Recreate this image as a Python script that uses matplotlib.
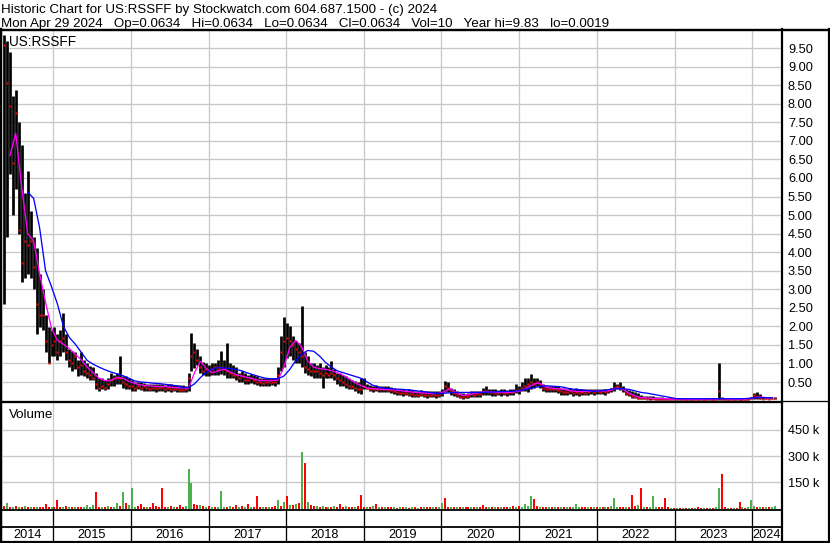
import numpy as np
import pandas as pd
import matplotlib
matplotlib.use("Agg")
import matplotlib.pyplot as plt

plt.rcParams["font.family"] = ["Liberation Sans", "DejaVu Sans"]

W, H = 830, 543

# two-week bars from mid May 2014 to Apr 2024, one row = half a year (13 bars)
hi = [
    9.84, 9.7, 9.4, 8.2, 8.36, 7.5, 6.9, 5.6, 6.2, 5.1, 4.4, 4.1, 3.4,
    3.0, 2.3, 1.97, 1.9, 1.97, 1.8, 1.9, 2.35, 1.8, 1.4, 1.35, 1.3, 1.1,
    1.3, 1.1, 1.0, 0.94, 0.9, 0.75, 0.62, 0.6, 0.55, 0.6, 0.75, 0.7, 0.75,
    1.2, 0.67, 0.65, 0.6, 0.55, 0.5, 0.5, 0.5, 0.48, 0.46, 0.45, 0.45, 0.44,
    0.44, 0.46, 0.42, 0.45, 0.44, 0.43, 0.42, 0.41, 0.42, 0.4, 0.75, 1.83, 1.54,
    1.4, 1.2, 1.05, 1.0, 0.95, 1.0, 1.0, 1.1, 1.35, 1.1, 1.56, 1.0, 0.95,
    0.9, 0.75, 0.8, 0.75, 0.7, 0.72, 0.7, 0.65, 0.62, 0.6, 0.62, 0.6, 0.62,
    0.6, 0.9, 1.75, 2.24, 2.1, 2.0, 1.75, 1.6, 1.55, 2.56, 1.3, 1.2, 1.0,
    1.0, 0.95, 1.0, 0.9, 0.95, 0.9, 1.08, 0.85, 0.75, 0.75, 0.7, 0.65, 0.6,
    0.55, 0.54, 0.5, 0.6, 0.62, 0.45, 0.42, 0.4, 0.42, 0.4, 0.38, 0.4, 0.38,
    0.36, 0.34, 0.32, 0.3, 0.3, 0.28, 0.3, 0.28, 0.26, 0.27, 0.28, 0.26, 0.25,
    0.26, 0.26, 0.25, 0.26, 0.3, 0.54, 0.5, 0.35, 0.3, 0.25, 0.2, 0.2, 0.19,
    0.2, 0.27, 0.25, 0.26, 0.27, 0.35, 0.4, 0.32, 0.3, 0.3, 0.28, 0.3, 0.3,
    0.28, 0.3, 0.32, 0.45, 0.4, 0.5, 0.6, 0.62, 0.73, 0.6, 0.62, 0.55, 0.45,
    0.4, 0.4, 0.38, 0.4, 0.38, 0.35, 0.35, 0.32, 0.35, 0.3, 0.33, 0.3, 0.32,
    0.3, 0.3, 0.32, 0.3, 0.32, 0.3, 0.32, 0.3, 0.32, 0.35, 0.49, 0.45, 0.49,
    0.4, 0.32, 0.28, 0.25, 0.22, 0.2, 0.15, 0.13, 0.12, 0.12, 0.13, 0.1, 0.1,
    0.1, 0.08, 0.07, 0.06, 0.06, 0.05, 0.06, 0.05, 0.06, 0.05, 0.05, 0.05, 0.05,
    0.05, 0.06, 0.05, 0.05, 0.06, 0.05, 1.0, 0.1, 0.06, 0.05, 0.05, 0.05, 0.05,
    0.05, 0.05, 0.05, 0.06, 0.1, 0.2, 0.22, 0.18, 0.1, 0.08, 0.1, 0.08, 0.1,
]
lo = [
    2.59, 4.4, 6.1, 5.0, 5.7, 4.5, 3.2, 3.3, 3.4, 3.3, 3.0, 1.8, 1.97,
    1.9, 1.3, 1.0, 1.2, 1.2, 1.1, 1.2, 1.3, 1.1, 0.9, 0.8, 0.85, 0.65,
    0.7, 0.65, 0.6, 0.55, 0.55, 0.3, 0.27, 0.3, 0.28, 0.3, 0.4, 0.4, 0.45,
    0.45, 0.35, 0.32, 0.3, 0.27, 0.27, 0.3, 0.28, 0.27, 0.26, 0.25, 0.25, 0.24,
    0.25, 0.26, 0.24, 0.25, 0.24, 0.25, 0.24, 0.24, 0.22, 0.22, 0.27, 0.8, 0.89,
    0.95, 0.75, 0.7, 0.67, 0.67, 0.7, 0.7, 0.7, 0.72, 0.7, 0.6, 0.6, 0.6,
    0.55, 0.5, 0.5, 0.46, 0.46, 0.48, 0.46, 0.42, 0.4, 0.4, 0.4, 0.4, 0.42,
    0.4, 0.45, 0.8, 0.9, 1.16, 1.2, 1.1, 1.0, 1.0, 0.9, 0.75, 0.7, 0.65,
    0.62, 0.62, 0.6, 0.35, 0.6, 0.6, 0.6, 0.55, 0.45, 0.4, 0.4, 0.35, 0.3,
    0.3, 0.25, 0.2, 0.19, 0.3, 0.3, 0.25, 0.24, 0.25, 0.22, 0.24, 0.23, 0.22,
    0.2, 0.18, 0.16, 0.15, 0.12, 0.14, 0.12, 0.1, 0.1, 0.1, 0.12, 0.1, 0.08,
    0.1, 0.1, 0.08, 0.1, 0.12, 0.22, 0.22, 0.15, 0.13, 0.1, 0.06, 0.05, 0.06,
    0.08, 0.1, 0.1, 0.1, 0.1, 0.15, 0.14, 0.14, 0.13, 0.13, 0.14, 0.13, 0.14,
    0.13, 0.14, 0.15, 0.2, 0.18, 0.25, 0.25, 0.22, 0.3, 0.35, 0.4, 0.35, 0.25,
    0.22, 0.22, 0.22, 0.24, 0.2, 0.15, 0.15, 0.15, 0.17, 0.13, 0.15, 0.13, 0.15,
    0.14, 0.15, 0.17, 0.16, 0.18, 0.17, 0.18, 0.16, 0.2, 0.22, 0.25, 0.3, 0.28,
    0.22, 0.15, 0.12, 0.08, 0.06, 0.05, 0.04, 0.03, 0.03, 0.02, 0.03, 0.02, 0.02,
    0.02, 0.02, 0.01, 0.01, 0.01, 0.01, 0.01, 0.01, 0.01, 0.01, 0.01, 0.01, 0.01,
    0.01, 0.01, 0.01, 0.01, 0.01, 0.01, 0.02, 0.02, 0.01, 0.01, 0.01, 0.01, 0.01,
    0.01, 0.01, 0.01, 0.01, 0.03, 0.05, 0.05, 0.05, 0.03, 0.03, 0.03, 0.03, 0.04,
]
cl = [
    9.57, 8.57, 7.95, 6.4, 7.76, 4.6, 3.7, 4.3, 4.2, 4.3, 3.6, 2.6, 2.3,
    2.3, 1.6, 1.0, 1.5, 1.6, 1.3, 1.6, 1.7, 1.3, 1.1, 1.0, 1.2, 0.9,
    0.95, 0.8, 0.75, 0.7, 0.6, 0.45, 0.35, 0.4, 0.35, 0.45, 0.55, 0.6, 0.6,
    0.6, 0.5, 0.45, 0.4, 0.38, 0.35, 0.4, 0.35, 0.38, 0.35, 0.32, 0.35, 0.33,
    0.33, 0.36, 0.3, 0.34, 0.3, 0.32, 0.3, 0.29, 0.28, 0.3, 0.6, 1.2, 1.3,
    1.1, 0.9, 0.8, 0.85, 0.8, 0.85, 0.9, 0.85, 0.9, 0.85, 0.8, 0.75, 0.7,
    0.7, 0.6, 0.65, 0.55, 0.55, 0.6, 0.55, 0.5, 0.5, 0.48, 0.5, 0.5, 0.5,
    0.5, 0.7, 1.3, 1.6, 1.7, 1.6, 1.5, 1.4, 1.3, 1.2, 0.9, 0.85, 0.8,
    0.8, 0.8, 0.75, 0.7, 0.75, 0.7, 0.75, 0.7, 0.6, 0.55, 0.5, 0.45, 0.4,
    0.4, 0.35, 0.3, 0.3, 0.4, 0.35, 0.32, 0.3, 0.32, 0.3, 0.3, 0.3, 0.28,
    0.28, 0.25, 0.22, 0.2, 0.2, 0.2, 0.18, 0.18, 0.16, 0.16, 0.18, 0.16, 0.15,
    0.16, 0.16, 0.15, 0.15, 0.2, 0.4, 0.35, 0.25, 0.2, 0.15, 0.1, 0.1, 0.12,
    0.13, 0.18, 0.15, 0.17, 0.18, 0.25, 0.25, 0.22, 0.22, 0.2, 0.2, 0.22, 0.2,
    0.2, 0.22, 0.22, 0.28, 0.28, 0.35, 0.4, 0.45, 0.5, 0.45, 0.5, 0.45, 0.35,
    0.32, 0.3, 0.3, 0.3, 0.28, 0.25, 0.22, 0.22, 0.25, 0.2, 0.22, 0.2, 0.22,
    0.2, 0.22, 0.25, 0.22, 0.25, 0.23, 0.25, 0.24, 0.27, 0.3, 0.35, 0.38, 0.35,
    0.3, 0.2, 0.17, 0.12, 0.1, 0.08, 0.06, 0.06, 0.05, 0.06, 0.05, 0.04, 0.05,
    0.05, 0.04, 0.04, 0.03, 0.03, 0.03, 0.03, 0.03, 0.02, 0.03, 0.02, 0.03, 0.02,
    0.03, 0.02, 0.03, 0.03, 0.02, 0.03, 0.27, 0.04, 0.03, 0.02, 0.03, 0.02, 0.03,
    0.02, 0.03, 0.02, 0.03, 0.06, 0.15, 0.1, 0.08, 0.05, 0.06, 0.05, 0.06, 0.0634,
]
# volume in thousands of shares, same two-week bars
vol = [
    12, 34, 10, 8, 14, 6, 9, 12, 7, 10, 8, 6, 9,
    7, 23, 6, 9, 8, 50, 10, 7, 12, 8, 6, 9, 11,
    8, 6, 20, 9, 20, 92, 7, 10, 8, 12, 6, 9, 30,
    14, 92, 30, 18, 115, 10, 12, 25, 8, 10, 9, 30, 12,
    9, 120, 10, 8, 12, 7, 9, 20, 8, 14, 225, 145, 25,
    22, 18, 12, 10, 15, 8, 9, 11, 103, 10, 7, 12, 9,
    20, 8, 12, 9, 25, 7, 10, 69, 8, 11, 7, 9, 10,
    12, 46, 15, 40, 74, 20, 18, 25, 30, 326, 258, 35, 22,
    15, 12, 10, 14, 9, 11, 8, 12, 10, 25, 9, 13, 10,
    11, 9, 12, 80, 10, 8, 7, 12, 28, 9, 6, 8, 7,
    6, 8, 5, 9, 6, 7, 5, 8, 6, 5, 7, 6, 8,
    7, 6, 8, 9, 29, 63, 10, 8, 6, 9, 7, 8, 6,
    7, 9, 6, 8, 10, 20, 7, 6, 9, 8, 10, 7, 9,
    8, 10, 12, 9, 14, 11, 25, 15, 74, 52, 12, 9, 8,
    7, 9, 6, 8, 7, 10, 6, 8, 7, 9, 25, 8, 6,
    7, 6, 8, 9, 7, 6, 8, 10, 9, 12, 63, 10, 8,
    9, 10, 8, 80, 12, 20, 115, 10, 8, 9, 74, 7, 6,
    8, 63, 6, 5, 4, 5, 3, 4, 5, 3, 4, 5, 6,
    4, 3, 5, 4, 3, 8, 115, 200, 6, 4, 5, 4, 3,
    35, 6, 5, 8, 46, 12, 7, 9, 6, 10, 8, 7, 15,
]
# u = up bar (green), d = down bar (red)
vol_dir = (
    "dudududududud" "dddudddududud" "duuuuddududuu" "duduuuddduddd"
    "dddududdduuud" "dudududuuudud" "dudududddudud" "dudududududud"
    "dududududddud" "dudddudududud" "dudududududud" "duduuddududud"
    "dududddududud" "dududuuuuddud" "dududududuuud" "dududududuuud"
    "dudddududuuud" "dddududududud" "dududuuddudud" "duduuudududuu"
)
# moving averages, every four weeks, one row = one year
ma_fast = [
    np.nan, 6.6, 7.2, 5.74, 4.5, 4.3, 3.42, 2.65, 1.95, 1.62, 1.52, 1.4, 1.25,
    1.1, 0.9, 0.75, 0.6, 0.54, 0.54, 0.63, 0.6, 0.52, 0.46, 0.42, 0.4, 0.39,
    0.38, 0.38, 0.36, 0.35, 0.34, 0.33, 0.75, 1.06, 0.86, 0.75, 0.8, 0.85, 0.77,
    0.7, 0.66, 0.62, 0.58, 0.54, 0.54, 0.54, 0.55, 0.9, 1.43, 1.62, 1.45, 1.07,
    0.9, 0.86, 0.84, 0.81, 0.75, 0.68, 0.58, 0.48, 0.4, 0.34, 0.32, 0.31, 0.3,
    0.3, 0.28, 0.26, 0.24, 0.22, 0.21, 0.2, 0.19, 0.19, 0.25, 0.32, 0.2, 0.14,
    0.16, 0.19, 0.22, 0.24, 0.23, 0.22, 0.22, 0.22, 0.24, 0.27, 0.36, 0.45, 0.47,
    0.36, 0.33, 0.32, 0.3, 0.27, 0.25, 0.24, 0.25, 0.25, 0.26, 0.26, 0.28, 0.34,
    0.3, 0.2, 0.12, 0.08, 0.07, 0.06, 0.05, 0.05, 0.04, 0.04, 0.04, 0.04, 0.04,
    0.04, 0.04, 0.04, 0.05, 0.05, 0.04, 0.04, 0.04, 0.05, 0.08, 0.1, 0.08, 0.07,
]
ma_slow = [
    np.nan, np.nan, np.nan, np.nan, 5.62, 5.45, 4.66, 3.5, 3.07, 2.6, 2.0, 1.7, 1.52,
    1.3, 1.08, 0.98, 0.9, 0.83, 0.77, 0.72, 0.67, 0.6, 0.53, 0.5, 0.49, 0.47,
    0.46, 0.44, 0.42, 0.4, 0.36, 0.35, 0.45, 0.62, 0.77, 0.85, 0.89, 0.88, 0.86,
    0.84, 0.8, 0.74, 0.69, 0.64, 0.6, 0.59, 0.59, 0.66, 0.84, 1.08, 1.25, 1.35,
    1.33, 1.2, 1.03, 0.9, 0.8, 0.75, 0.7, 0.65, 0.6, 0.5, 0.41, 0.36, 0.33,
    0.32, 0.31, 0.3, 0.29, 0.27, 0.25, 0.23, 0.21, 0.19, 0.2, 0.21, 0.22, 0.22,
    0.22, 0.22, 0.22, 0.23, 0.23, 0.24, 0.24, 0.25, 0.26, 0.28, 0.32, 0.35, 0.38,
    0.4, 0.39, 0.38, 0.36, 0.32, 0.3, 0.29, 0.27, 0.25, 0.26, 0.28, 0.31, 0.32,
    0.32, 0.3, 0.26, 0.22, 0.2, 0.17, 0.14, 0.11, 0.08, 0.05, 0.05, 0.05, 0.05,
    0.05, 0.05, 0.05, 0.05, 0.05, 0.05, 0.05, 0.05, 0.06, 0.08, 0.08, 0.08, 0.08,
]
years = list(range(2014, 2025))
price_ticks = [0.5, 1.0, 1.5, 2.0, 2.5, 3.0, 3.5, 4.0, 4.5, 5.0,
               5.5, 6.0, 6.5, 7.0, 7.5, 8.0, 8.5, 9.0, 9.5]
vol_ticks = [150, 300, 450]

header1 = "Historic Chart for US:RSSFF by Stockwatch.com 604.687.1500 - (c) 2024"
header2 = ("Mon Apr 29 2024   Op=0.0634   Hi=0.0634   Lo=0.0634   Cl=0.0634   "
           "Vol=10   Year hi=9.83   lo=0.0019")

dates = pd.date_range("2014-05-15", periods=len(hi), freq="14D")
ma_dates = pd.date_range("2014-05-15", periods=len(ma_fast), freq="28D")
x_left, x_right = pd.Timestamp("2014-05-11"), pd.Timestamp("2024-05-15")
year_starts = [pd.Timestamp(f"{y}-01-01") for y in years[1:]]

GRID = "#c8c8c8"
GREEN = "#4cb04c"
PX = 72 / 100  # points per pixel

fig = plt.figure(figsize=(W / 100, H / 100), dpi=100)


def px_axes(x0, y0, x1, y1, **kw):
    return fig.add_axes([x0 / W, 1 - y1 / H, (x1 - x0) / W, (y1 - y0) / H], **kw)


ax = px_axes(3, 31, 781, 400.6)
axv = px_axes(3, 402, 781, 508.5, sharex=ax)
axy = px_axes(3, 509, 781, 541.5, sharex=ax)

# price panel
ax.vlines(dates, lo, hi, color="black", lw=2.7 * PX, zorder=3)
ax.plot(dates, cl, ls="none", marker="s", ms=2.4 * PX, color="red", mec="none", zorder=4)
ax.plot(ma_dates, ma_fast, color="#ff00ff", lw=1.3 * PX, zorder=5)
ax.plot(ma_dates, ma_slow, color="#0000ff", lw=1.3 * PX, zorder=5)
ax.set_ylim(0, 9.96)
ax.set_yticks(price_ticks)
ax.set_yticklabels([f"{v:.2f}" for v in price_ticks])

# volume panel
colors = [GREEN if c == "u" else "red" for c in vol_dir]
axv.vlines(dates, 0, vol, colors=colors, lw=2.0 * PX, zorder=3)
axv.set_ylim(0, 610)
axv.set_yticks(vol_ticks)
axv.set_yticklabels([f"{v} k" for v in vol_ticks])

for a in (ax, axv):
    a.set_xticks(year_starts)
    a.grid(True, color=GRID, lw=1.3 * PX, zorder=0)
    a.yaxis.tick_right()
    a.tick_params(axis="y", length=0, pad=5, labelsize=9.2, colors="black")
    a.tick_params(axis="x", length=0, labelbottom=False)
    for s in a.spines.values():
        s.set_visible(False)
ax.set_xlim(x_left, x_right)

# year strip
axy.set_ylim(541.5, 509)
axy.vlines(year_starts, 509, 541.5, color="black", lw=1.3 * PX)
edges = [x_left] + year_starts + [x_right]
for y, a, b in zip(years, edges[:-1], edges[1:]):
    axy.text(a + (b - a) / 2, 535, str(y), ha="center", va="center", fontsize=9.2)
axy.axis("off")

# frame, header and labels in pixel coordinates
ov = fig.add_axes([0, 0, 1, 1], zorder=10)
ov.set_xlim(0, W)
ov.set_ylim(H, 0)
ov.axis("off")
ov.patch.set_alpha(0)
ov.plot([0, W], [29.5, 29.5], color="black", lw=2.4 * PX)
ov.plot([1.2, 1.2], [29, 542], color="black", lw=2.5 * PX)
ov.plot([782, 782], [29, 542], color="black", lw=2.2 * PX)
ov.plot([828.5, 828.5], [29, 542], color="black", lw=2.2 * PX)
ov.plot([0, W], [541.8, 541.8], color="black", lw=2.2 * PX)
ov.plot([0, W], [400.6, 400.6], color="black", lw=1.3 * PX)
ov.plot([0, 782], [402.2, 402.2], color="black", lw=1.3 * PX)
ov.plot([0, 782], [509.8, 509.8], color="black", lw=1.8 * PX)
ov.plot([0, 782], [526.8, 526.8], color="black", lw=1.8 * PX)

ov.text(1, 13.5, header1, va="baseline", fontsize=9.6)
ov.text(1, 27, header2, va="baseline", fontsize=9.6)
ov.text(9, 46.5, "US:RSSFF", va="baseline", fontsize=9.8)
ov.text(9, 418, "Volume", va="baseline", fontsize=9.6)

fig.savefig("out.png", dpi=100, facecolor="white")
